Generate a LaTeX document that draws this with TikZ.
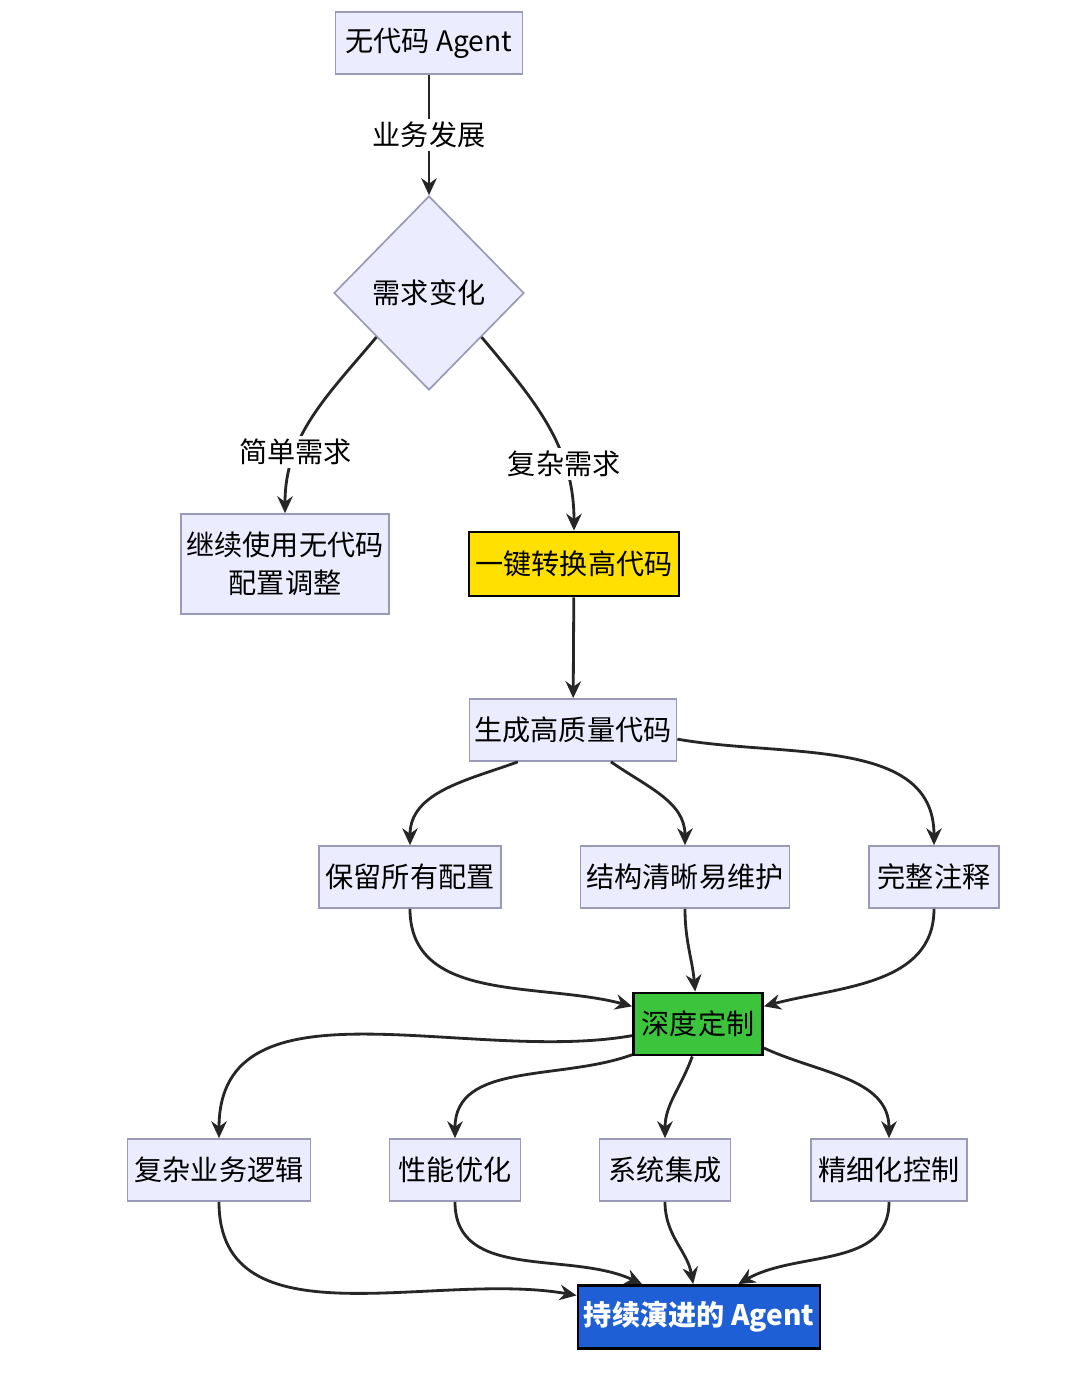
\documentclass[tikz,border=0pt]{standalone}
\usepackage{fontspec}
\setmainfont{Noto Sans CJK SC}
\usetikzlibrary{arrows.meta,shapes.geometric}
\definecolor{boxfill}{HTML}{ECECFF}
\definecolor{boxline}{HTML}{9A9AB8}
\definecolor{hiyellow}{HTML}{FFE000}
\definecolor{higreen}{HTML}{3CC43C}
\definecolor{hiblue}{HTML}{1F5FD6}
\tikzset{
  box/.style={rectangle, draw=boxline, fill=boxfill, line width=1.2pt, align=center, inner sep=0pt},
  lbl/.style={fill=white, inner sep=2pt},
  flow/.style={-{Stealth[length=12pt,width=11pt]}, line width=2pt, draw=black!85}
}
\begin{document}
\begin{tikzpicture}[x=0.025cm, y=-0.025cm, font=\fontsize{20}{27}\selectfont]
  \useasboundingbox[fill=white] (0,0) rectangle (1084,1384);

  \node[box, minimum width=4.675cm, minimum height=1.55cm] (nocode) at (429,43) {无代码 Agent};
  \node[diamond, draw=boxline, fill=boxfill, line width=1.2pt, minimum width=4.75cm, minimum height=4.85cm, inner sep=0pt] (change) at (429,293) {需求变化};
  \node[box, minimum width=5.2cm, minimum height=2.5cm] (keepnc) at (285,564) {继续使用无代码\\配置调整};
  \node[box, draw=black, fill=hiyellow, line width=2pt, minimum width=5.25cm, minimum height=1.6cm] (convert) at (574,564) {一键转换高代码};
  \node[box, minimum width=5.175cm, minimum height=1.55cm] (gen) at (573,730) {生成高质量代码};
  \node[box, minimum width=4.55cm, minimum height=1.55cm] (keepcfg) at (410,877) {保留所有配置};
  \node[box, minimum width=5.225cm, minimum height=1.55cm] (clear) at (685,877) {结构清晰易维护};
  \node[box, minimum width=3.25cm, minimum height=1.55cm] (notes) at (934,877) {完整注释};
  \node[box, draw=black, fill=higreen, line width=2pt, minimum width=3.225cm, minimum height=1.55cm] (deep) at (698,1024) {深度定制};
  \node[box, minimum width=4.575cm, minimum height=1.55cm] (logic) at (219,1170) {复杂业务逻辑};
  \node[box, minimum width=3.275cm, minimum height=1.55cm] (perf) at (455,1170) {性能优化};
  \node[box, minimum width=3.275cm, minimum height=1.55cm] (integ) at (665,1170) {系统集成};
  \node[box, minimum width=3.9cm, minimum height=1.55cm] (fine) at (889,1170) {精细化控制};
  \node[box, draw=black, fill=hiblue, text=white, line width=2pt, font=\fontsize{20}{27}\selectfont\bfseries, minimum width=6.05cm, minimum height=1.575cm] (final) at (699,1317) {持续演进的 Agent};

  % branches
  \draw[flow] (nocode) -- node[lbl] {业务发展} (change);
  \draw[flow] (change.-140) to[out=-130,in=90] node[lbl, pos=0.7] {简单需求} (keepnc);
  \draw[flow] (change.-40) to[out=-50,in=90] node[lbl, pos=0.7] {复杂需求} (convert);
  \draw[flow] (convert) -- (gen);

  \draw[flow] (gen.-150) to[out=-160,in=90] (keepcfg);
  \draw[flow] (gen.-40) to[out=-35,in=90] (clear.north);
  \draw[flow] (gen.-5) to[out=-10,in=90] (notes);

  \draw[flow] (keepcfg) to[out=-90,in=165] (deep.165);
  \draw[flow] (clear) to[out=-90,in=95] (deep.95);
  \draw[flow] (notes) to[out=-90,in=15] (deep.15);

  \draw[flow] (deep.190) to[out=190,in=90] (logic);
  \draw[flow] (deep.205) to[out=200,in=90] (perf);
  \draw[flow] (deep.-100) to[out=-110,in=90] (integ);
  \draw[flow] (deep.-20) to[out=-25,in=90] (fine);

  \draw[flow] (logic) to[out=-90,in=170] (final.170);
  \draw[flow] (perf) to[out=-90,in=155] (final.150);
  \draw[flow] (integ) to[out=-90,in=100] (final.100);
  \draw[flow] (fine) to[out=-90,in=30] (final.40);
\end{tikzpicture}
\end{document}
